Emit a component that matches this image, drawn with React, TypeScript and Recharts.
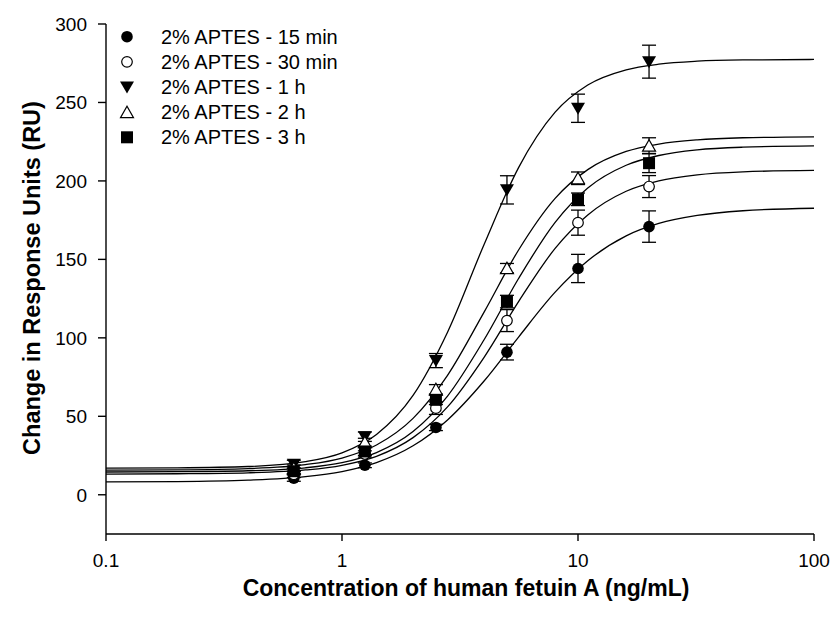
import {
  ComposedChart, Line, Scatter, ErrorBar, XAxis, YAxis,
} from 'recharts';

// measured concentrations (ng/mL)
const CONC = [0.625, 1.25, 2.5, 5, 10, 20];

// response (RU) and error per series
const MIN15 = [10.6, 18.8, 42.9, 90.9, 144.2, 170.9];
const MIN15_ERR = [2, 1.5, 2, 5, 9, 10];
const MIN30 = [13, 26, 55.2, 111, 173.4, 196.4];
const MIN30_ERR = [2, 2, 4, 7, 8, 7];
const HOUR1 = [19.5, 37, 85.5, 194.3, 246.3, 276];
const HOUR1_ERR = [2.5, 3, 4.5, 9, 9, 10.5];
const HOUR2 = [17, 33.5, 67.2, 144.4, 201.7, 222.5];
const HOUR2_ERR = [2, 2.5, 3, 3, 4, 5];
const HOUR3 = [15, 27.6, 60.5, 123.1, 188.3, 211.3];
const HOUR3_ERR = [2, 2.5, 3, 4, 4, 6];

// fitted curves, read along the x axis
const FIT_X = [0.1, 0.2, 0.4, 0.7, 1, 1.4, 2, 2.8, 4, 5.6, 8, 11, 16, 22, 32, 50, 100];
const FIT_15 = [8.2, 8.4, 9.3, 11.5, 14.8, 20.5, 31.2, 47.7, 72.5, 100.5, 129.1, 149.1, 165, 172.9, 178, 181, 182.6];
const FIT_30 = [13.2, 13.4, 14, 15.8, 18.8, 24.5, 36.4, 56, 87.6, 123.1, 157, 178.3, 193.4, 200, 203.9, 205.8, 206.7];
const FIT_1H = [17, 17.2, 18, 21.1, 26.7, 38.4, 63.3, 103.6, 159.5, 208.5, 243.8, 261.1, 270.8, 274.4, 276.3, 277.1, 277.4];
const FIT_2H = [15.7, 15.9, 16.7, 19.2, 23.4, 31.7, 48.7, 76.1, 116.4, 156, 188.9, 207.2, 218.8, 223.5, 226.2, 227.5, 228.1];
const FIT_3H = [14.5, 14.7, 15.3, 17.2, 20.5, 26.9, 40.3, 62.9, 98.8, 137.8, 173.6, 195.5, 210, 216.2, 219.8, 221.5, 222.3];

const X_TICKS = [0.1, 1, 10, 100];
const Y_TICKS = [0, 50, 100, 150, 200, 250, 300];

const FONT = '"Liberation Sans", Arial, sans-serif';

type Sym = 'circle' | 'ocircle' | 'down' | 'up' | 'square';

function Marker({ cx, cy, sym }: { cx: number; cy: number; sym: Sym }) {
  if (cx == null || cy == null) return null;
  switch (sym) {
    case 'circle':
      return <circle cx={cx} cy={cy} r={5.8} fill="#000" />;
    case 'ocircle':
      return <circle cx={cx} cy={cy} r={5.3} fill="#fff" stroke="#000" strokeWidth={1.2} />;
    case 'down':
      return <path d={`M${cx - 7},${cy - 5.5}L${cx + 7},${cy - 5.5}L${cx},${cy + 6.5}Z`} fill="#000" />;
    case 'up':
      return <path d={`M${cx - 6.5},${cy + 5.5}L${cx + 6.5},${cy + 5.5}L${cx},${cy - 6}Z`} fill="#fff" stroke="#000" strokeWidth={1.2} />;
    default:
      return <rect x={cx - 6} y={cy - 6} width={12} height={12} fill="#000" />;
  }
}

const SERIES = [
  { name: '2% APTES - 15 min', sym: 'circle' as Sym, y: MIN15, err: MIN15_ERR, fit: FIT_15 },
  { name: '2% APTES - 30 min', sym: 'ocircle' as Sym, y: MIN30, err: MIN30_ERR, fit: FIT_30 },
  { name: '2% APTES - 1 h', sym: 'down' as Sym, y: HOUR1, err: HOUR1_ERR, fit: FIT_1H },
  { name: '2% APTES - 2 h', sym: 'up' as Sym, y: HOUR2, err: HOUR2_ERR, fit: FIT_2H },
  { name: '2% APTES - 3 h', sym: 'square' as Sym, y: HOUR3, err: HOUR3_ERR, fit: FIT_3H },
];

const XTick = (p: any) => (
  <text x={p.x} y={p.y} dy="0.71em" textAnchor="middle" fontSize={19} fill="#000" fontFamily={FONT}>
    {String(p.payload.value)}
  </text>
);

const YTick = (p: any) => (
  <text x={p.x} y={p.y} dy="0.355em" textAnchor="end" fontSize={19} fill="#000" fontFamily={FONT}>
    {String(p.payload.value)}
  </text>
);

export default function App() {
  return (
    <div style={{ position: 'absolute', left: 0, top: 0, width: 833, height: 621, background: '#fff' }}>
      <ComposedChart
        width={833}
        height={621}
        margin={{ top: 24, right: 19, bottom: 0, left: 0 }}
      >
        <XAxis
          dataKey="x"
          type="number"
          scale="log"
          domain={[0.1, 100]}
          ticks={X_TICKS}
          allowDataOverflow
          height={87}
          tickSize={7}
          tickMargin={13}
          stroke="#000"
          strokeWidth={1.4}
          tick={XTick}
        />
        <YAxis
          dataKey="y"
          type="number"
          domain={[-25, 300]}
          ticks={Y_TICKS}
          allowDataOverflow
          width={106}
          tickSize={8}
          tickMargin={11}
          stroke="#000"
          strokeWidth={1.4}
          tick={YTick}
        />
        {SERIES.map((s) => (
          <Line
            key={'fit' + s.name}
            data={FIT_X.map((x, i) => ({ x, y: s.fit[i] }))}
            dataKey="y"
            type="monotone"
            stroke="#000"
            strokeWidth={1.3}
            dot={false}
            activeDot={false}
            isAnimationActive={false}
            legendType="none"
          />
        ))}
        {SERIES.map((s) => (
          <Scatter
            key={'pts' + s.name}
            name={s.name}
            data={CONC.map((x, i) => ({ x, y: s.y[i], err: s.err[i] }))}
            dataKey="y"
            isAnimationActive={false}
            shape={(p: any) => <Marker cx={p.cx} cy={p.cy} sym={s.sym} />}
          >
            <ErrorBar dataKey="err" direction="y" width={7} stroke="#000" strokeWidth={1.3} isAnimationActive={false} />
          </Scatter>
        ))}
      </ComposedChart>
      <svg width={833} height={621} style={{ position: 'absolute', left: 0, top: 0, pointerEvents: 'none' }}>
        {SERIES.map((s, i) => {
          const cy = 36.7 + i * 25.15;
          return (
            <g key={s.name}>
              <Marker cx={127} cy={cy} sym={s.sym} />
              <text x={161} y={cy + 7} fontSize={20} fill="#000" fontFamily={FONT}>{s.name}</text>
            </g>
          );
        })}
        <text x={466} y={596} textAnchor="middle" fontSize={23} fontWeight="bold" fill="#000" fontFamily={FONT}>
          Concentration of human fetuin A (ng/mL)
        </text>
        <text x={40} y={278} transform="rotate(-90, 40, 278)" textAnchor="middle" fontSize={23.5} fontWeight="bold" fill="#000" fontFamily={FONT}>
          Change in Response Units (RU)
        </text>
      </svg>
    </div>
  );
}
